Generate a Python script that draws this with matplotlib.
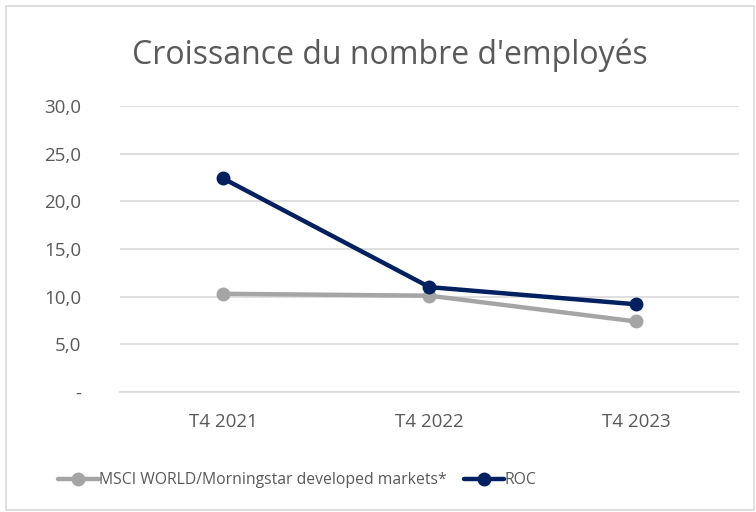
import matplotlib
matplotlib.use("Agg")
import matplotlib.pyplot as plt
from matplotlib.ticker import FuncFormatter
from matplotlib.patches import Rectangle

plt.rcParams["font.family"] = ["Open Sans", "DejaVu Sans"]

# donnees
trimestres = ["T4 2021", "T4 2022", "T4 2023"]
msci = [10.3, 10.1, 7.4]
roc = [22.4, 11.0, 9.2]
noms = ["MSCI WORLD/Morningstar developed markets*", "ROC"]

gris_txt = "#595959"

fig = plt.figure(figsize=(7.56, 5.12), dpi=100)
ax = fig.add_axes([0.1587, 0.2344, 0.8188, 0.5586])

x = range(len(trimestres))
ax.plot(x, msci, color="#a5a5a5", lw=3.2, marker="o", ms=9, label=noms[0],
        solid_capstyle="round")
ax.plot(x, roc, color="#002060", lw=3.2, marker="o", ms=9, label=noms[1],
        solid_capstyle="round")

ax.set_xlim(-0.5, len(trimestres) - 0.5)
ax.set_ylim(0, 30)
ax.set_yticks([0, 5, 10, 15, 20, 25, 30])
ax.yaxis.set_major_formatter(FuncFormatter(
    lambda v, p: "-" if v == 0 else f"{v:.1f}".replace(".", ",")))
ax.set_xticks(list(x))
ax.set_xticklabels(trimestres)

ax.grid(axis="y", color="#d9d9d9", lw=1.2)
ax.set_axisbelow(True)
for s in ["top", "right", "left"]:
    ax.spines[s].set_visible(False)
ax.spines["bottom"].set_color("#d9d9d9")
ax.spines["bottom"].set_linewidth(1.2)
ax.tick_params(axis="both", length=0, labelsize=13.5, colors=gris_txt)
ax.tick_params(axis="x", pad=15)
ax.tick_params(axis="y", pad=28)

fig.text(0.516, 0.893, "Croissance du nombre d'employés", ha="center", va="center",
         fontsize=23, color=gris_txt)

fig.legend(loc="center", bbox_to_anchor=(0.393, 0.0625), ncol=2, frameon=False,
           fontsize=11.3, labelcolor=gris_txt, handlelength=2.6, handletextpad=0.0,
           columnspacing=1.1)

fig.patches.append(Rectangle((0.008, 0.004), 0.99, 0.984, transform=fig.transFigure,
                             fill=False, edgecolor="#d9d9d9", lw=1.2))

fig.savefig("out.png", dpi=100, facecolor="white")
